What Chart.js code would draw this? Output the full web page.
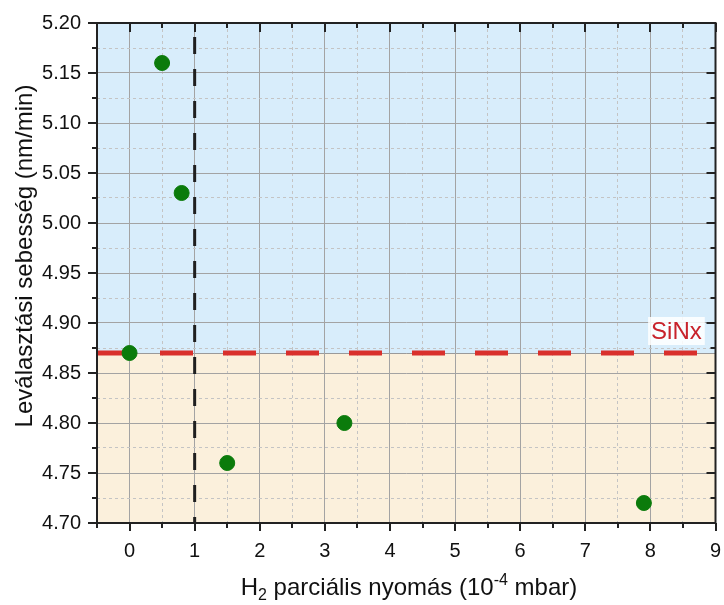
<!DOCTYPE html>
<html>
<head>
<meta charset="utf-8">
<script src="https://cdn.jsdelivr.net/npm/chart.js@4.4.0/dist/chart.umd.min.js"></script>
<style>
  html, body { margin: 0; padding: 0; background: #fff; }
  #wrap { width: 724px; height: 605px; }
</style>
</head>
<body>
<div id="wrap"><canvas id="chart" width="724" height="605"></canvas></div>
<script>
// measured points: H2 partial pressure vs deposition rate
const pressure = [0, 0.5, 0.8, 1.5, 3.3, 7.9];
const rate = [4.87, 5.16, 5.03, 4.76, 4.80, 4.72];

// reference level for SiNx and the threshold pressure
const sinxRate = 4.87;
const sinxLabel = "SiNx";
const thresholdPressure = 1;

const xRange = [-0.5, 9];
const yRange = [4.70, 5.20];

const FONT = "'Liberation Sans', Arial, sans-serif";

const isMajorX = v => Math.abs(v - Math.round(v)) < 1e-6;
const isMajorY = v => Math.round(v * 1000) % 50 === 0;

// scales keep exactly the box we give them
function fixBox(s, w, h) {
  if (w) s.width = w;
  if (h) s.height = h;
  s.paddingLeft = 0; s.paddingRight = 0;
  s.paddingTop = 0; s.paddingBottom = 0;
}

// ---- plugin: coloured zones behind the grid ----
const zones = {
  id: "zones",
  beforeDraw(chart) {
    const { ctx, chartArea: a, scales } = chart;
    const yS = scales.y.getPixelForValue(sinxRate);
    ctx.save();
    ctx.fillStyle = "#d8edfb";
    ctx.fillRect(a.left, a.top, a.right - a.left, yS - a.top);
    ctx.fillStyle = "#fbf0dc";
    ctx.fillRect(a.left, yS, a.right - a.left, a.bottom - yS);
    ctx.strokeStyle = "#9a9a9a";
    ctx.lineWidth = 1;
    ctx.beginPath();
    ctx.moveTo(a.left, yS + 0.5);
    ctx.lineTo(a.right, yS + 0.5);
    ctx.stroke();
    ctx.restore();
  }
};

// ---- plugin: frame, tick marks, axis titles, SiNx tag ----
const frame = {
  id: "frame",
  afterDraw(chart) {
    const { ctx, chartArea: a, scales } = chart;
    const xs = scales.x, ys = scales.y;
    ctx.save();
    ctx.strokeStyle = "#222";
    ctx.lineWidth = 2;
    ctx.strokeRect(a.left, a.top, a.right - a.left, a.bottom - a.top);

    ctx.beginPath();
    xs.ticks.forEach(t => {
      const px = Math.round(xs.getPixelForValue(t.value));
      const big = isMajorX(t.value);
      const out = big ? 8 : 5, inn = big ? 9 : 5;
      ctx.moveTo(px, a.bottom); ctx.lineTo(px, a.bottom + out);
      ctx.moveTo(px, a.top); ctx.lineTo(px, a.top + inn);
    });
    ys.ticks.forEach(t => {
      const py = Math.round(ys.getPixelForValue(t.value));
      const big = isMajorY(t.value);
      const out = big ? 9 : 5, inn = big ? 9 : 5;
      ctx.moveTo(a.left, py); ctx.lineTo(a.left - out, py);
      ctx.moveTo(a.right, py); ctx.lineTo(a.right - inn, py);
    });
    ctx.stroke();

    // x title with subscript / superscript
    ctx.fillStyle = "#111";
    ctx.textBaseline = "alphabetic";
    const parts = [
      { t: "H", s: 24, dy: 0 },
      { t: "2", s: 16, dy: 5 },
      { t: " parciális nyomás (10", s: 24, dy: 0 },
      { t: "-4", s: 16, dy: -10 },
      { t: " mbar)", s: 24, dy: 0 }
    ];
    let w = 0;
    parts.forEach(p => { ctx.font = p.s + "px " + FONT; p.w = ctx.measureText(p.t).width; w += p.w; });
    let x = 409 - w / 2;
    const base = 595;
    parts.forEach(p => {
      ctx.font = p.s + "px " + FONT;
      ctx.fillText(p.t, x, base + p.dy);
      x += p.w;
    });

    // y title
    ctx.save();
    ctx.translate(32, 256);
    ctx.rotate(-Math.PI / 2);
    ctx.font = "24px " + FONT;
    ctx.textAlign = "center";
    ctx.textBaseline = "alphabetic";
    ctx.fillText("Leválasztási sebesség (nm/min)", 0, 0);
    ctx.restore();

    // SiNx tag above the reference line
    const tx = xs.getPixelForValue(8.4);
    const ty = ys.getPixelForValue(sinxRate) - 22;
    ctx.font = "24px " + FONT;
    const tw = ctx.measureText(sinxLabel).width;
    ctx.fillStyle = "rgba(255,255,255,0.85)";
    ctx.fillRect(tx - tw / 2 - 3, ty - 14, tw + 6, 28);
    ctx.fillStyle = "#c8222b";
    ctx.textAlign = "center";
    ctx.textBaseline = "middle";
    ctx.fillText(sinxLabel, tx, ty + 1);
    ctx.restore();
  }
};

const ctx = document.getElementById("chart");

new Chart(ctx, {
  type: "scatter",
  data: {
    datasets: [
      {
        label: "SiNx",
        data: xRange.map(v => ({ x: v, y: sinxRate })),
        showLine: true,
        borderColor: "#d9302c",
        borderWidth: 5,
        borderDash: [33, 30],
        pointRadius: 0,
        order: 3
      },
      {
        label: "threshold",
        data: [{ x: thresholdPressure, y: yRange[1] }, { x: thresholdPressure, y: yRange[0] }],
        showLine: true,
        borderColor: "#1f1f1f",
        borderWidth: 3,
        borderDash: [17, 15],
        borderDashOffset: 18,
        pointRadius: 0,
        order: 2
      },
      {
        label: "rate",
        data: pressure.map((p, i) => ({ x: p, y: rate[i] })),
        backgroundColor: "#0b7b0b",
        borderColor: "#0b7b0b",
        pointRadius: 7.5,
        pointHoverRadius: 7.5,
        order: 1
      }
    ]
  },
  options: {
    responsive: false,
    animation: false,
    events: [],
    layout: { padding: { left: 0, top: 23, right: 7, bottom: 0 } },
    plugins: {
      legend: { display: false },
      tooltip: { enabled: false }
    },
    scales: {
      x: {
        type: "linear",
        min: xRange[0],
        max: xRange[1],
        afterFit: s => fixBox(s, 0, 82),
        border: {
          display: false,
          dash: c => (isMajorX(c.tick.value) ? [] : [3, 3])
        },
        grid: {
          drawTicks: false,
          color: c => (isMajorX(c.tick.value) ? "#a3a3a3" : "#c4c4c4"),
          lineWidth: 1
        },
        ticks: {
          stepSize: 0.5,
          autoSkip: false,
          maxRotation: 0,
          padding: 16,
          color: "#111",
          font: { family: FONT, size: 20 },
          callback: v => (isMajorX(v) ? String(Math.round(v)) : "")
        }
      },
      y: {
        type: "linear",
        min: yRange[0],
        max: yRange[1],
        afterFit: s => fixBox(s, 97, 0),
        border: {
          display: false,
          dash: c => (isMajorY(c.tick.value) ? [] : [3, 3])
        },
        grid: {
          drawTicks: false,
          color: c => (isMajorY(c.tick.value) ? "#a3a3a3" : "#c4c4c4"),
          lineWidth: 1
        },
        ticks: {
          stepSize: 0.025,
          autoSkip: false,
          padding: 16,
          color: "#111",
          font: { family: FONT, size: 20 },
          callback: v => (isMajorY(v) ? v.toFixed(2) : "")
        }
      }
    }
  },
  plugins: [zones, frame]
});
</script>
</body>
</html>
